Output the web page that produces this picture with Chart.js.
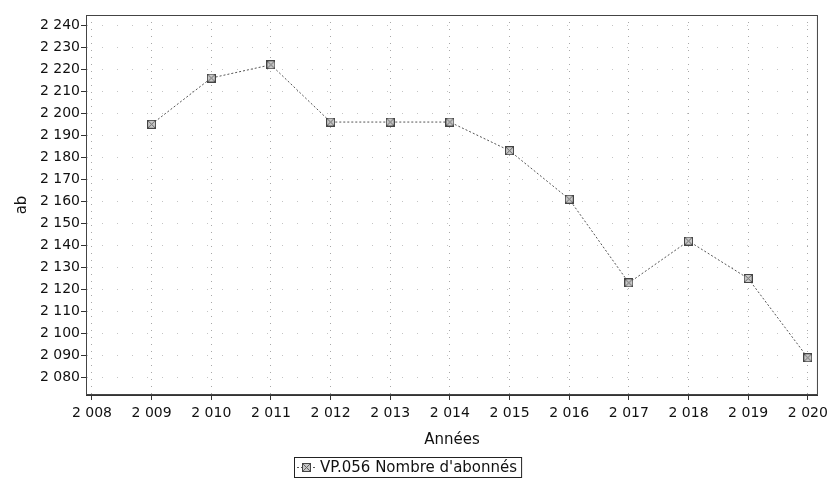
<!DOCTYPE html>
<html>
<head>
<meta charset="utf-8">
<script src="https://cdn.jsdelivr.net/npm/chart.js@4/dist/chart.umd.min.js"></script>
<style>
  html, body { margin: 0; padding: 0; background: #fff; }
  #wrap { width: 833px; height: 482px; position: relative; }
</style>
</head>
<body>
<div id="wrap"><canvas id="chart" width="833" height="482"></canvas></div>
<script>
// valeurs
const years = [2009, 2010, 2011, 2012, 2013, 2014, 2015, 2016, 2017, 2018, 2019, 2020];
const subscribers = [2195, 2216, 2222, 2196, 2196, 2196, 2183, 2161, 2123, 2142, 2125, 2089];
const xTicks = [2008, 2009, 2010, 2011, 2012, 2013, 2014, 2015, 2016, 2017, 2018, 2019, 2020];
const yTicks = [2080, 2090, 2100, 2110, 2120, 2130, 2140, 2150, 2160, 2170, 2180, 2190, 2200, 2210, 2220, 2230, 2240];
const seriesLabel = "VP.056 Nombre d'abonnés";

const FONT = 'DejaVu Sans';

// séparateur de milliers à la française : 2 008
const fmt = v => String(v).replace(/\B(?=(\d{3})+(?!\d))/g, ' ');

// petit carré hachuré utilisé comme marqueur
function makeMarker() {
    const c = document.createElement('canvas');
    c.width = 9; c.height = 9;
    const g = c.getContext('2d');
    g.fillStyle = '#c8c8c8';
    g.fillRect(0, 0, 9, 9);
    g.strokeStyle = '#666';
    g.lineWidth = 1;
    g.beginPath();
    g.moveTo(1, 1); g.lineTo(8, 8);
    g.moveTo(8, 1); g.lineTo(1, 8);
    g.stroke();
    g.strokeStyle = '#444';
    g.strokeRect(0.5, 0.5, 8, 8);
    return c;
}
const marker = makeMarker();

// cadre autour de la zone de tracé
const frame = {
    id: 'frame',
    afterDraw(chart) {
        const { ctx, chartArea: a } = chart;
        ctx.save();
        ctx.strokeStyle = '#444';
        ctx.lineWidth = 1;
        ctx.strokeRect(a.left + 0.5, a.top + 0.5, a.right - a.left - 1, a.bottom - a.top - 1);
        ctx.restore();
    }
};

// légende encadrée sous le titre de l'axe
const boxLegend = {
    id: 'boxLegend',
    afterDraw(chart) {
        const ctx = chart.ctx;
        const x = 294, y = 457, h = 20;
        ctx.save();
        ctx.font = '15px ' + FONT;
        const tw = ctx.measureText(seriesLabel).width;
        const w = 26 + tw + 4;
        ctx.fillStyle = '#fff';
        ctx.fillRect(x, y, w, h);
        ctx.strokeStyle = '#222';
        ctx.lineWidth = 1;
        ctx.strokeRect(x + 0.5, y + 0.5, w, h);
        ctx.strokeStyle = '#555';
        ctx.setLineDash([2, 2]);
        ctx.beginPath();
        ctx.moveTo(x + 3, y + h / 2 + 0.5);
        ctx.lineTo(x + 23, y + h / 2 + 0.5);
        ctx.stroke();
        ctx.setLineDash([]);
        ctx.drawImage(marker, x + 8, y + h / 2 - 4);
        ctx.fillStyle = '#111';
        ctx.textBaseline = 'middle';
        ctx.fillText(seriesLabel, x + 26, y + h / 2 + 1);
        ctx.restore();
    }
};

new Chart(document.getElementById('chart'), {
    type: 'line',
    data: {
        datasets: [{
            label: seriesLabel,
            data: years.map((yr, i) => ({ x: yr, y: subscribers[i] })),
            borderColor: '#555',
            borderWidth: 1,
            borderDash: [2, 2],
            tension: 0,
            pointStyle: marker,
            pointRadius: 4,
            fill: false
        }]
    },
    options: {
        responsive: false,
        animation: false,
        devicePixelRatio: 1,
        layout: { padding: { left: 0, right: 11, top: 15, bottom: 0 } },
        plugins: { legend: { display: false }, tooltip: { enabled: false } },
        scales: {
            x: {
                type: 'linear',
                min: 2007.9,
                max: 2020.17,
                afterBuildTicks: s => { s.ticks = xTicks.map(v => ({ value: v })); },
                afterFit: s => { s.height = 87; },
                ticks: { color: '#111', font: { family: FONT, size: 14 }, padding: 5, maxRotation: 0, autoSkip: false, callback: v => fmt(v) },
                grid: { color: '#a8a8a8', tickLength: 5, tickColor: '#333', tickBorderDash: [] },
                border: { display: true, color: '#333', width: 1, dash: [1, 6] },
                title: { display: true, text: 'Années', color: '#111', font: { family: FONT, size: 15 }, padding: { top: 0, bottom: 33 } }
            },
            y: {
                min: 2072.1,
                max: 2244.6,
                afterBuildTicks: s => { s.ticks = yTicks.map(v => ({ value: v })); },
                afterFit: s => { s.width = 86; },
                ticks: { color: '#111', font: { family: FONT, size: 14 }, padding: 1, autoSkip: false, callback: v => fmt(v) },
                grid: { color: '#c4c4c4', tickLength: 5, tickColor: '#333', tickBorderDash: [] },
                border: { display: true, color: '#333', width: 1, dash: [1, 14] },
                title: { display: true, text: 'ab', color: '#111', font: { family: FONT, size: 15 }, padding: { top: 13, bottom: 0 } }
            }
        }
    },
    plugins: [frame, boxLegend]
});
</script>
</body>
</html>
